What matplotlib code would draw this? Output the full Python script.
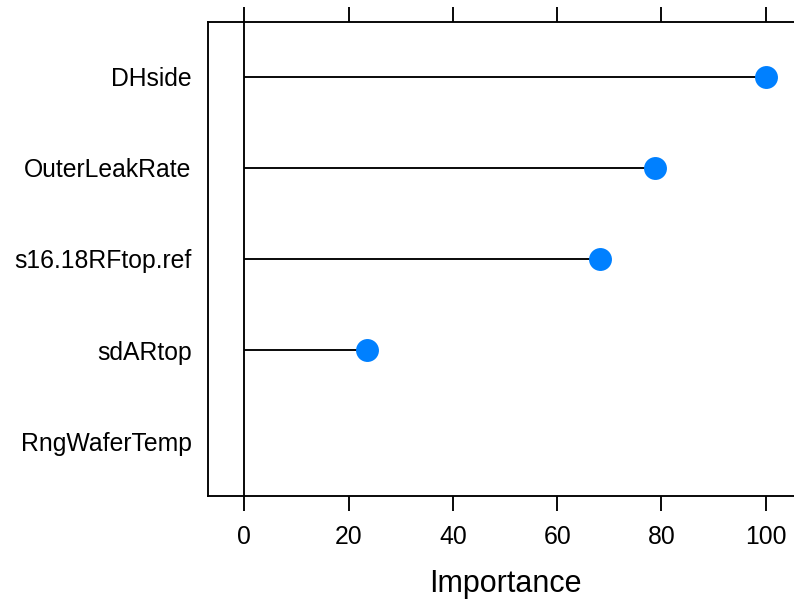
import numpy as np
import matplotlib
matplotlib.use("Agg")
import matplotlib.pyplot as plt

plt.rcParams['font.family'] = ['Liberation Sans', 'DejaVu Sans']

# Variable importance (scaled 0-100), top to bottom
variables = ["DHside", "OuterLeakRate", "s16.18RFtop.ref", "sdARtop", "RngWaferTemp"]
importance = [100.0, 78.7, 68.3, 23.5, 0.0]
x_ticks = [0, 20, 40, 60, 80, 100]

dot_color = "#0080FF"
lw = 1.35

fig = plt.figure(figsize=(7.94, 6.03), dpi=100)
ax = fig.add_axes([207.7 / 794, 107 / 603, (802.3 - 207.7) / 794, (496 - 22) / 603])

n = len(variables)
ypos = np.arange(n, 0, -1)
vals = np.array(importance)

# reference line at zero
ax.axvline(0, color="black", lw=lw, zorder=1)
# needles from zero to each value
ax.hlines(ypos, 0, vals, color="black", lw=lw, zorder=2)
# points (variables with zero importance show no dot)
mask = vals > 0
ax.plot(vals[mask], ypos[mask], "o", ms=16.5, color=dot_color, mec="none", zorder=3)

ax.set_xlim(-7, 107)
ax.set_ylim(0.4, n + 0.6)
ax.set_xticks(x_ticks)
ax.set_yticks(ypos)
ax.set_yticklabels(variables)

for s in ax.spines.values():
    s.set_linewidth(lw)
ax.tick_params(axis="x", which="both", direction="out", length=10.8, width=lw,
               top=True, labeltop=False, labelsize=17.8, pad=10)
ax.tick_params(axis="y", length=0, labelsize=17.8, pad=11.5)
ax.set_xlabel("Importance", fontsize=22, labelpad=14.5)

fig.savefig("out.png", dpi=100)
